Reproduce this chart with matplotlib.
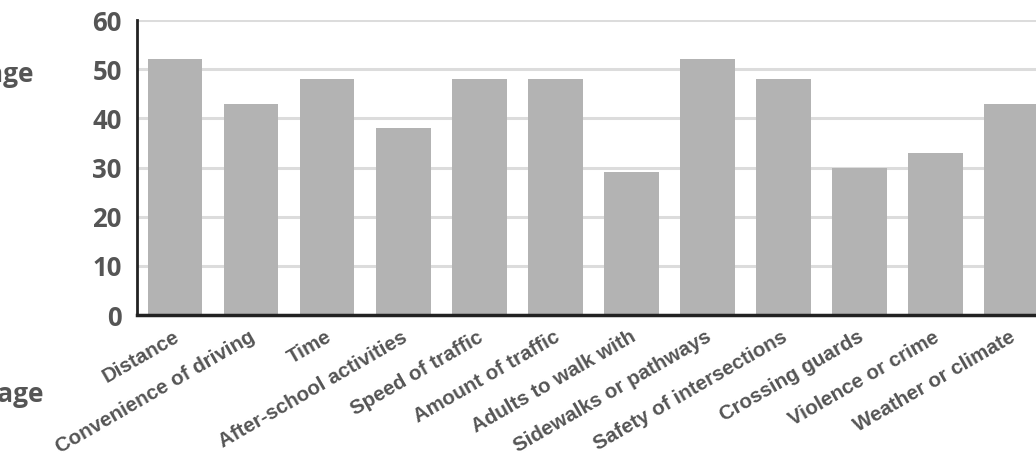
import matplotlib
matplotlib.use("Agg")
import matplotlib.pyplot as plt
from matplotlib.transforms import ScaledTranslation

categories = [
    "Distance", "Convenience of driving", "Time", "After-school activities",
    "Speed of traffic", "Amount of traffic", "Adults to walk with",
    "Sidewalks or pathways", "Safety of intersections", "Crossing guards",
    "Violence or crime", "Weather or climate",
]
percentages = [52, 43, 48, 38, 48, 48, 29, 52, 48, 30, 33, 43]
y_ticks = [0, 10, 20, 30, 40, 50, 60]

W, H = 1036, 470
fig = plt.figure(figsize=(W / 100, H / 100), dpi=100)
fig.patch.set_facecolor("white")

left_px, right_px, top_px, bottom_px = 137, 1049.5, 20, 315
ax = fig.add_axes([left_px / W, 1 - bottom_px / H,
                   (right_px - left_px) / W, (bottom_px - top_px) / H])

x = range(len(categories))
ax.bar(x, percentages, width=0.72, color="#b3b3b3", zorder=2)

ax.set_xlim(-0.5, len(categories) - 0.5)
ax.set_ylim(0, 60)
ax.set_yticks(y_ticks)
ax.yaxis.grid(True, color="#dcdcdc", linewidth=2.2, zorder=0)
ax.set_axisbelow(True)

for side in ("top", "right"):
    ax.spines[side].set_visible(False)
ax.spines["left"].set_color("#222222")
ax.spines["left"].set_linewidth(2)
ax.spines["bottom"].set_color("#222222")
ax.spines["bottom"].set_linewidth(2.5)

ax.tick_params(axis="y", length=0, pad=11, labelsize=18.5, labelcolor="#555555")
for lbl in ax.get_yticklabels():
    lbl.set_fontweight("bold")
    lbl.set_fontfamily("Open Sans")

ax.set_xticks(list(x))
ax.set_xticklabels(categories, rotation=30, ha="right", rotation_mode="anchor",
                   fontsize=14.8, fontweight="bold", color="#555555",
                   family="Liberation Sans")
ax.tick_params(axis="x", length=0, pad=9)
for lbl in ax.get_xticklabels():
    lbl.set_transform(lbl.get_transform() +
                      ScaledTranslation(-0.02, 0, fig.dpi_scale_trans))

# axis titles, running off the left edge of the canvas
fig.text(34 / W, 1 - 75 / H, "Percentage", ha="right", va="center",
         fontsize=19, fontweight="bold", color="#555555", family="Open Sans")
fig.text(44 / W, 1 - 395 / H, "Percentage", ha="right", va="center",
         fontsize=19, fontweight="bold", color="#555555", family="Open Sans")

fig.savefig("out.png", dpi=100, facecolor="white")
